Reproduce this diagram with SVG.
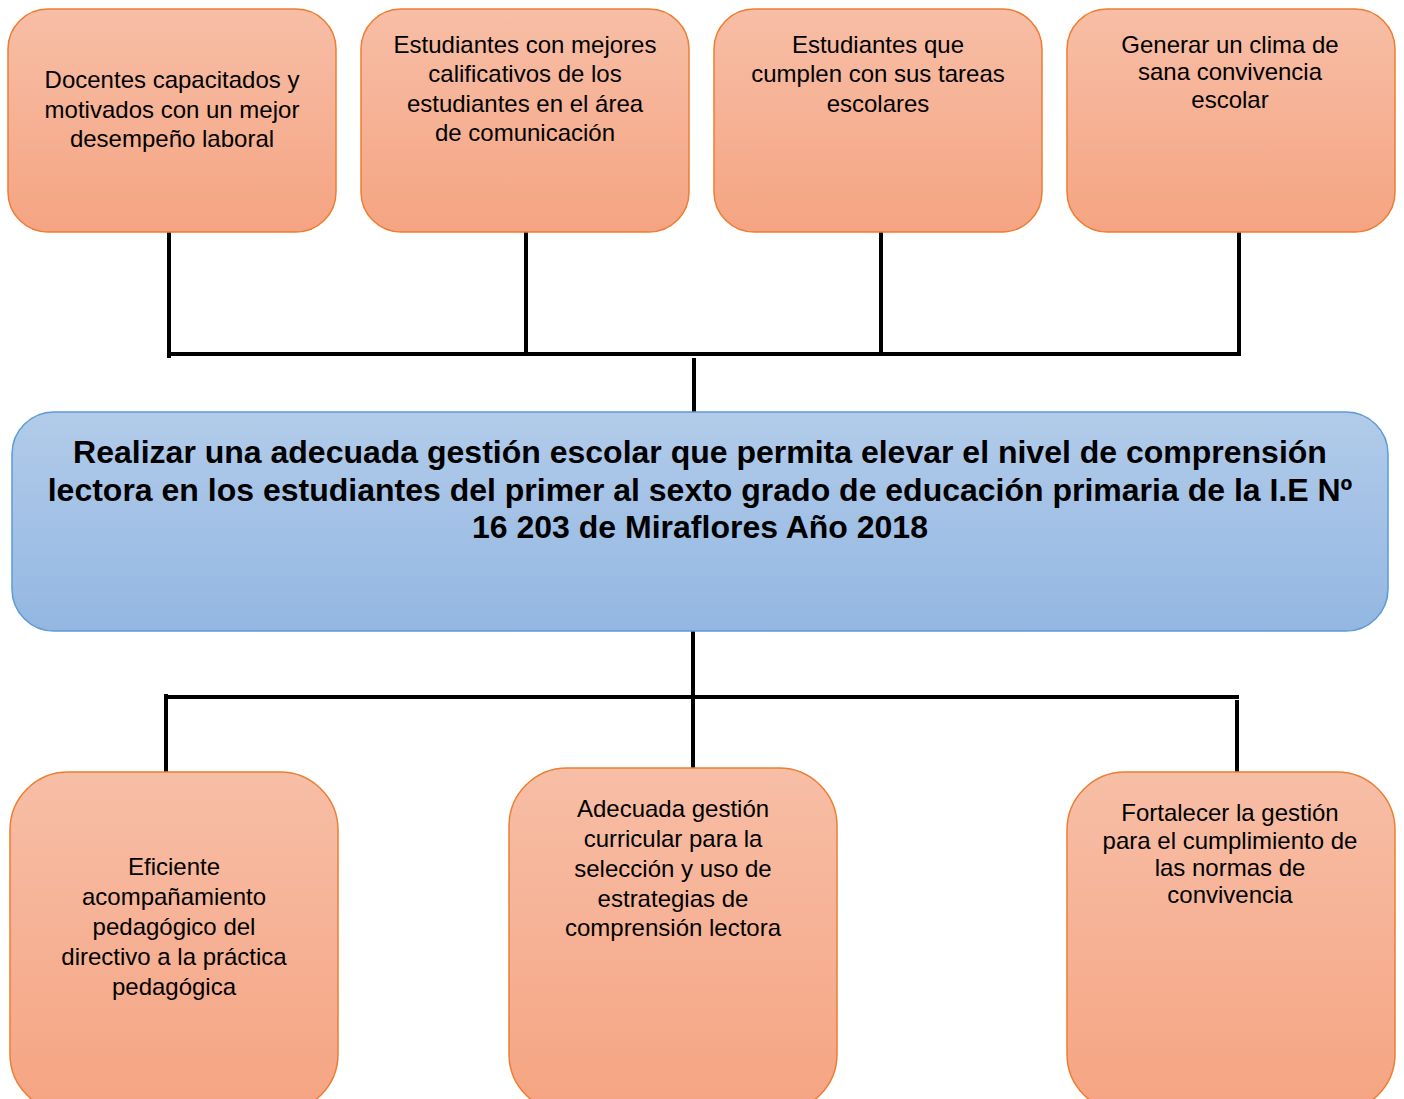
<svg xmlns="http://www.w3.org/2000/svg" width="1404" height="1099" viewBox="0 0 1404 1099">
<defs>
<linearGradient id="og" x1="0" y1="0" x2="0" y2="1">
<stop offset="0" stop-color="#f7bea6"/>
<stop offset="1" stop-color="#f5a482"/>
</linearGradient>
<linearGradient id="bg" x1="0" y1="0" x2="0" y2="1">
<stop offset="0" stop-color="#b2cbe9"/>
<stop offset="1" stop-color="#93b7e2"/>
</linearGradient>
<style>
.o{fill:url(#og);stroke:#ed7d31;stroke-width:1.5}
.b{fill:url(#bg);stroke:#5b9bd5;stroke-width:1.5}
.t{font-family:"Liberation Sans",Arial,sans-serif;font-size:24px;fill:#000;text-anchor:middle}
.m{font-family:"Liberation Sans",Arial,sans-serif;font-size:32px;font-weight:bold;fill:#000;text-anchor:middle}
.c{stroke:#000;stroke-width:4;fill:none}
</style>
</defs>
<rect width="1404" height="1099" fill="#fff"/>
<g id="connectors">
<line class="c" x1="169" y1="232" x2="169" y2="358"/>
<line class="c" x1="526" y1="232" x2="526" y2="354"/>
<line class="c" x1="881" y1="232" x2="881" y2="354"/>
<line class="c" x1="1239" y1="232" x2="1239" y2="356"/>
<line class="c" x1="167" y1="354" x2="1241" y2="354"/>
<line class="c" x1="694" y1="358" x2="694" y2="412"/>
<line class="c" x1="693" y1="631" x2="693" y2="768"/>
<line class="c" x1="164" y1="697" x2="1239" y2="697"/>
<line class="c" x1="166" y1="694" x2="166" y2="772"/>
<line class="c" x1="1237" y1="700" x2="1237" y2="772"/>
</g>
<g id="top1">
<rect class="o" x="8" y="9" width="328" height="223" rx="40"/>
<text class="t" x="172" y="88">Docentes capacitados y</text>
<text class="t" x="172" y="118">motivados con un mejor</text>
<text class="t" x="172" y="147">desempeño laboral</text>
</g>
<g id="top2">
<rect class="o" x="361" y="9" width="328" height="223" rx="40"/>
<text class="t" x="525" y="53">Estudiantes con mejores</text>
<text class="t" x="525" y="82">calificativos de los</text>
<text class="t" x="525" y="112">estudiantes en el área</text>
<text class="t" x="525" y="141">de comunicación</text>
</g>
<g id="top3">
<rect class="o" x="714" y="9" width="328" height="223" rx="40"/>
<text class="t" x="878" y="53">Estudiantes que</text>
<text class="t" x="878" y="82">cumplen con sus tareas</text>
<text class="t" x="878" y="112">escolares</text>
</g>
<g id="top4">
<rect class="o" x="1067" y="9" width="328" height="223" rx="40"/>
<text class="t" x="1230" y="53">Generar un clima de</text>
<text class="t" x="1230" y="80">sana convivencia</text>
<text class="t" x="1230" y="108">escolar</text>
</g>
<g id="center">
<rect class="b" x="12" y="412" width="1376" height="219" rx="42"/>
<text class="m" x="700" y="463">Realizar una adecuada gestión escolar que permita elevar el nivel de comprensión</text>
<text class="m" x="700" y="501">lectora en los estudiantes del primer al sexto grado de educación primaria de la I.E Nº</text>
<text class="m" x="700" y="538">16 203 de Miraflores Año 2018</text>
</g>
<g id="bottom1">
<rect class="o" x="10" y="772" width="328" height="340" rx="58"/>
<text class="t" x="174" y="875">Eficiente</text>
<text class="t" x="174" y="905">acompañamiento</text>
<text class="t" x="174" y="935">pedagógico del</text>
<text class="t" x="174" y="965">directivo a la práctica</text>
<text class="t" x="174" y="995">pedagógica</text>
</g>
<g id="bottom2">
<rect class="o" x="509" y="768" width="328" height="344" rx="58"/>
<text class="t" x="673" y="817">Adecuada gestión</text>
<text class="t" x="673" y="847">curricular para la</text>
<text class="t" x="673" y="877">selección y uso de</text>
<text class="t" x="673" y="907">estrategias de</text>
<text class="t" x="673" y="936">comprensión lectora</text>
</g>
<g id="bottom3">
<rect class="o" x="1067" y="772" width="328" height="340" rx="58"/>
<text class="t" x="1230" y="821">Fortalecer la gestión</text>
<text class="t" x="1230" y="849">para el cumplimiento de</text>
<text class="t" x="1230" y="876">las normas de</text>
<text class="t" x="1230" y="903">convivencia</text>
</g>
</svg>
